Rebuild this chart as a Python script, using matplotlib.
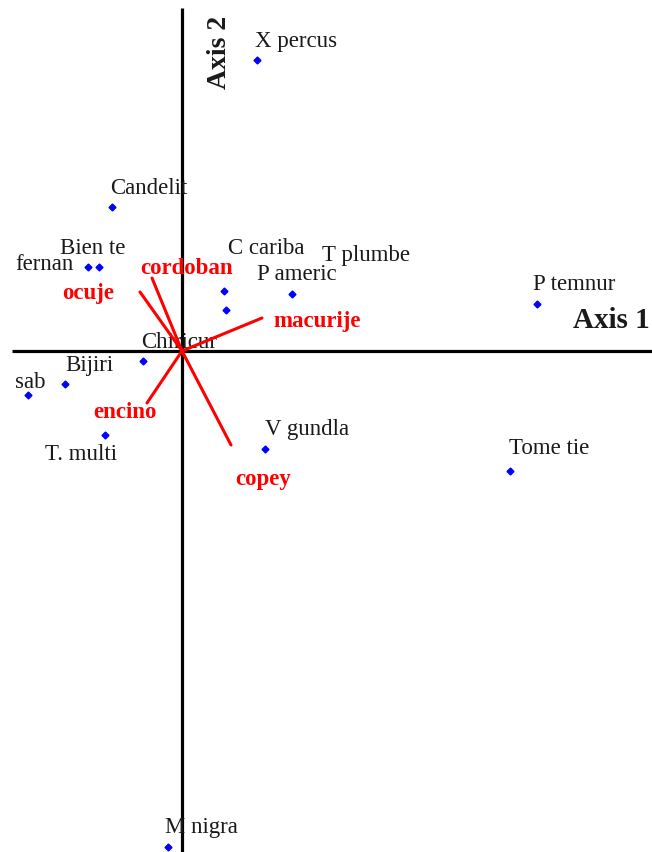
import numpy as np
from matplotlib import pyplot as plt

# especies (scores en ejes 1 y 2)
especies = ['X percus', 'Candelit', 'Bien te', 'fernan', 'C cariba', 'T plumbe', 'P americ',
            'P temnur', 'Chiricur', 'Bijiri', 'sab', 'T. multi', 'V gundla', 'Tome tie', 'M nigra']
eje1 = [0.75, -0.70, -0.83, -0.94, 0.42, 0.44, 1.10, 3.55, -0.39, -1.17, -1.54, -0.77, 0.83, 3.28, -0.14]
eje2 = [2.91, 1.44, 0.84, 0.84, 0.60, 0.41, 0.57, 0.47, -0.10, -0.33, -0.44, -0.84, -0.98, -1.20, -4.96]

# variables ambientales (vectores)
variables = ['cordoban', 'ocuje', 'macurije', 'encino', 'copey']
vec1 = [-0.30, -0.42, 0.80, -0.35, 0.49]
vec2 = [0.73, 0.59, 0.33, -0.52, -0.94]

# desplazamiento de etiquetas en pixeles (derecha, abajo)
off_esp = {'X percus': (-2, -18), 'Candelit': (-2, -19), 'Bien te': (-39, -19), 'fernan': (-73, -2),
           'C cariba': (4, -42), 'T plumbe': (96, -54), 'P americ': (-35, -19), 'P temnur': (-4, -19),
           'Chiricur': (-2, -19), 'Bijiri': (0, -19), 'sab': (-13, -13), 'T. multi': (-60, 20),
           'V gundla': (0, -19), 'Tome tie': (-1, -22), 'M nigra': (-3, -20)}
off_var = {'cordoban': (-12, -10), 'ocuje': (-78, 1), 'macurije': (11, 4),
           'encino': (-54, 9), 'copey': (4, 34)}

fig = plt.figure(figsize=(6.52, 8.52), dpi=100)
ax = fig.add_axes([0, 0, 1, 1])
ax.set_xlim(-1.82, 4.70)
ax.set_ylim(-5.01, 3.51)
ax.axis('off')

# ejes
ax.hlines(0, -1.70, 4.70, color='black', lw=2.3, zorder=2)
ax.vlines(0, -5.01, 3.43, color='black', lw=2.3, zorder=2)

ax.plot(eje1, eje2, 'D', color='#0000ff', ms=3.5, mec='#0000ff', zorder=4)
for i in range(len(especies)):
    dx, dy = off_esp[especies[i]]
    ax.annotate(especies[i], (eje1[i], eje2[i]), xytext=(dx, -dy), textcoords='offset pixels',
                ha='left', va='center', fontsize=16.5, family='Liberation Serif', color='#1a1a1a', zorder=3)

for i in range(len(variables)):
    ax.plot([0, vec1[i]], [0, vec2[i]], color='#ff0000', lw=2.2, solid_capstyle='round', zorder=5)
    dx, dy = off_var[variables[i]]
    ax.annotate(variables[i], (vec1[i], vec2[i]), xytext=(dx, -dy), textcoords='offset pixels',
                ha='left', va='center', fontsize=16.5, fontweight='bold', family='Liberation Serif',
                color='#ff0000', zorder=6)

ax.text(4.68, 0.31, 'Axis 1', ha='right', va='center', fontsize=21, fontweight='bold',
        family='Liberation Serif', color='#1a1a1a')
ax.text(0.38, 3.51 - 0.52, 'Axis 2', ha='center', va='center', rotation=90, fontsize=20,
        fontweight='bold', family='Liberation Serif', color='#1a1a1a')

fig.savefig('out.png', dpi=100, facecolor='white')
